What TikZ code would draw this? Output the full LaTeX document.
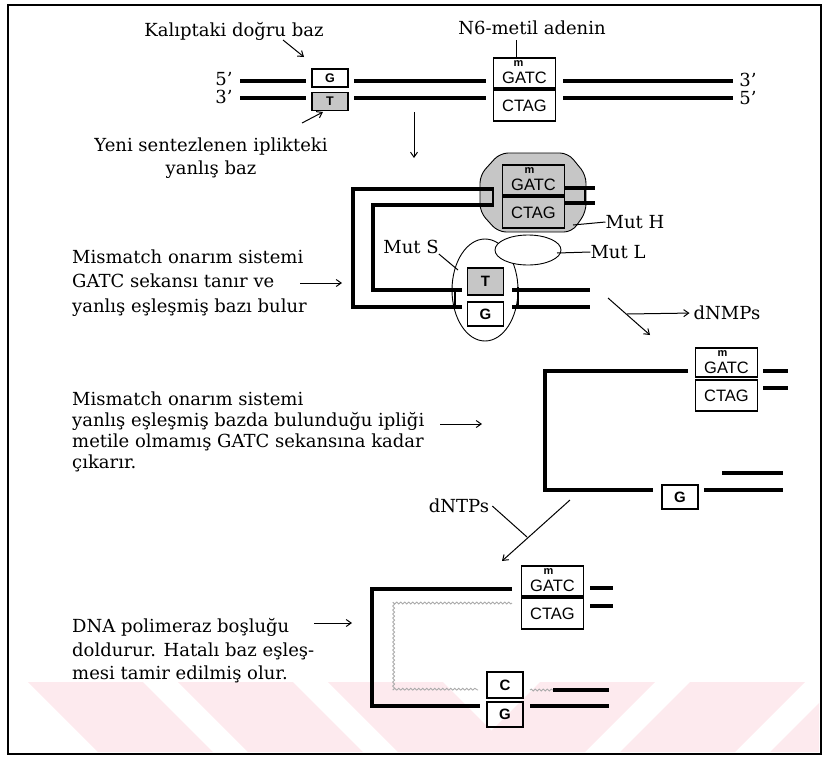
\documentclass[tikz,border=0pt]{standalone}
\usepackage{fontspec}
\setmainfont{DejaVu Serif}
\newfontfamily\sansfont{Liberation Sans}
\usetikzlibrary{calc,arrows.meta,decorations.pathmorphing}
\definecolor{wm}{RGB}{253,234,238}
\definecolor{dots}{RGB}{170,170,170}
\begin{document}
\begin{tikzpicture}[x=1pt,y=-1pt,
  strand/.style={line width=3.8pt},
  lbl/.style={font=\fontsize{18}{23}\selectfont, inner sep=0pt},
  txt/.style={lbl, align=left, anchor=west},
  arr/.style={line width=1pt, -{Straight Barb[length=5pt,width=7pt]}},
  lead/.style={line width=1pt},
  bar/.style={line width=2pt},
  pairbox/.style={draw, line width=1.4pt, inner sep=0pt, minimum width=62pt},
  basebox/.style={draw, line width=1.4pt, inner sep=0pt, minimum width=36pt, minimum height=25pt, font=\sansfont\bfseries\fontsize{15}{15}\selectfont},
  smallbox/.style={draw, line width=1.4pt, inner sep=0pt, minimum width=36pt, minimum height=18pt, font=\sansfont\bfseries\fontsize{12.5}{12.5}\selectfont},
  seq/.style={font=\sansfont\fontsize{16.5}{16.5}\selectfont, inner sep=0pt},
  mlab/.style={font=\sansfont\bfseries\fontsize{11}{11}\selectfont, inner sep=0pt},
  shade/.style={fill=gray!45},
  newstrand/.style={dots, line width=0.9pt, decorate, decoration={snake, amplitude=0.9pt, segment length=4pt}},
  prot/.style={draw, line width=0.9pt},
]
\useasboundingbox (0,0) rectangle (827,758);

% faint watermark stripes
\begin{scope}
\clip (10,682) rectangle (819,752);
\foreach \a in {28,178,328} {
  \fill[wm] (\a,682) -- (\a+115,682) -- (\a+185,752) -- (\a+70,752) -- cycle;
}
\foreach \a in {540,690,840} {
  \fill[wm] (\a,682) -- (\a+115,682) -- (\a+45,752) -- (\a-70,752) -- cycle;
}
\end{scope}

% frame
\draw[line width=2.5pt] (8,5) rectangle (821,754);

% ================= top section =================
\node[lbl] (kal) at (234,31) {Kalıptaki doğru baz};
\node[lbl] (n6) at (532,28) {N6-metil adenin};
\node[lbl, align=center] (yeni) at (211,158) {Yeni sentezlenen iplikteki\\yanlış baz};

\node[smallbox] (g1) at (330,78) {G};
\node[smallbox, shade] (t1) at (330,101.5) {T};
\node[pairbox, minimum height=30pt] (gatc1) at (524.5,73) {};
\node[pairbox, minimum height=31pt] (ctag1) at (524.5,105.5) {};
\node[mlab] at ($(gatc1.center)+(-6,-9)$) {m};
\node[seq] at ($(gatc1.center)+(0,5)$) {GATC};
\node[seq] at (ctag1.center) {CTAG};

\draw[strand] (240,81) -- (306,81) (354,81) -- (486,81) (563,81) -- (733,81);
\draw[strand] (240,98) -- (306,98) (354,98) -- (486,98) (563,98) -- (733,98);
\node[lbl] (p5a) at (224,79) {5'};
\node[lbl] (p3a) at (224,97) {3'};
\node[lbl] (p3b) at (748,80) {3'};
\node[lbl] (p5b) at (748,98) {5'};

\coordinate (kalA) at (283,40);
\coordinate (kalB) at (304,57);
\draw[arr] (kalA) -- (kalB);
\coordinate (yeniA) at (302,123);
\coordinate (yeniB) at (323,112);
\draw[arr] (yeniA) -- (yeniB);
\draw[lead] (516,40) -- (gatc1.north -| 516,0);
\coordinate (downA) at (414,112);
\coordinate (downB) at (414,158);
\draw[arr] (downA) -- (downB);

% ================= section 2 =================
\draw[prot, shade, rounded corners=8pt] (500,153) -- (568,153) -- (586,175) -- (586,212) -- (572,232) -- (498,232) -- (480,212) -- (480,175) -- cycle;
\draw[prot] (485,290) ellipse [x radius=33, y radius=51];
\draw[prot, fill=white] (528,250) ellipse [x radius=33, y radius=15];

\draw[strand] (493,189) -- (353,189) -- (353,307) -- (462,307);
\draw[strand] (493,205) -- (373,205) -- (373,290) -- (462,290);
\draw[bar] (493,187) -- (493,207);
\draw[strand] (565,188) -- (595,188) (565,203) -- (595,203);
\draw[bar] (585,186) -- (585,205);
\draw[bar] (455,288) -- (455,309);
\draw[strand] (512,290) -- (590,290) (512,307) -- (590,307);
\draw[bar] (518,287) -- (518,309);

\node[pairbox, shade, minimum height=30pt] (gatc2) at (533.5,180) {};
\node[pairbox, shade, minimum height=31pt] (ctag2) at (533.5,212.5) {};
\node[mlab] at ($(gatc2.center)+(-4,-9)$) {m};
\node[seq] at ($(gatc2.center)+(0,5)$) {GATC};
\node[seq] at (ctag2.center) {CTAG};
\node[basebox, shade, minimum height=27pt] (t2) at (485.5,281.5) {T};
\node[basebox, minimum height=24pt] (g2) at (485.5,314) {G};

\node[lbl] (muth) at (635,222) {Mut H};
\node[lbl] (mutl) at (618,252) {Mut L};
\node[lbl] (muts) at (411,247) {Mut S};
\draw[lead] (573,225) -- (muth.west);
\draw[lead] (557,253) -- (mutl.west);
\draw[lead] (muts.south east) -- (458,270);

\node[txt, font=\fontsize{18}{24.5}\selectfont] (lab1) at (72,283) {Mismatch onarım sistemi\\GATC sekansı tanır ve\\yanlış eşleşmiş bazı bulur};
\coordinate (a1A) at (300,283);
\coordinate (a1B) at (342,283);
\draw[arr] (a1A) -- (a1B);

\node[lbl] (dnmp) at (727,313) {dNMPs};
\coordinate (dnA) at (608,298);
\coordinate (dnB) at (650,335);
\draw[arr] (dnA) -- (dnB);
\coordinate (dnC) at (627,314);
\draw[arr, shorten >=4pt] (dnC) -- (dnmp.west);

% ================= section 3 =================
\draw[strand] (688,371) -- (545,371) -- (545,490) -- (653,490);
\draw[line width=4.8pt] (545,370) -- (545,491);
\draw[strand] (763,371) -- (788,371) (763,388) -- (788,388);
\draw[strand] (704,490) -- (783,490) (722,473) -- (783,473);
\node[pairbox, minimum height=29pt] (gatc3) at (726.5,362.5) {};
\node[pairbox, minimum height=31pt] (ctag3) at (726.5,395.5) {};
\node[mlab] at ($(gatc3.center)+(-4,-9)$) {m};
\node[seq] at ($(gatc3.center)+(0,5)$) {GATC};
\node[seq] at (ctag3.center) {CTAG};
\node[basebox, minimum height=24pt] (g3) at (680,497) {G};

\node[txt, font=\fontsize{18}{21}\selectfont] (lab2) at (72,431.5) {Mismatch onarım sistemi\\yanlış eşleşmiş bazda bulunduğu ipliği\\metile olmamış GATC sekansına kadar\\çıkarır.};
\coordinate (a2A) at (440,424);
\coordinate (a2B) at (482,424);
\draw[arr] (a2A) -- (a2B);

% ================= section 4 =================
\node[lbl] (dntp) at (459,506) {dNTPs};
\coordinate (dtB) at (527,537);
\draw[line width=1pt] ([xshift=3pt]dntp.east) -- (dtB);
\coordinate (dtC) at (570,500);
\coordinate (dtD) at (502,561);
\draw[arr] (dtC) -- (dtD);

\draw[strand] (512,589) -- (372,589) -- (372,706) -- (480,706);
\draw[newstrand] (512,603) -- (393,603) -- (393,690) -- (478,690);
\draw[strand] (590,588) -- (613,588) (590,606) -- (613,606);
\draw[newstrand] (530,690) -- (553,690);
\draw[strand] (553,690) -- (609,690) (530,706) -- (609,706);
\node[pairbox, minimum height=30pt] (gatc4) at (552.5,581) {};
\node[pairbox, minimum height=31pt] (ctag4) at (552.5,613.5) {};
\node[mlab] at ($(gatc4.center)+(-4,-9)$) {m};
\node[seq] at ($(gatc4.center)+(0,5)$) {GATC};
\node[seq] at (ctag4.center) {CTAG};
\node[basebox, minimum height=26pt] (c4) at (505,685) {C};
\node[basebox, minimum height=25pt] (g4) at (505,714.5) {G};

\node[txt, font=\fontsize{18}{23.5}\selectfont] (lab3) at (72,651) {DNA polimeraz boşluğu\\doldurur. Hatalı baz eşleş-\\mesi tamir edilmiş olur.};
\coordinate (a3A) at (314,623);
\coordinate (a3B) at (352,623);
\draw[arr] (a3A) -- (a3B);
\end{tikzpicture}
\end{document}
